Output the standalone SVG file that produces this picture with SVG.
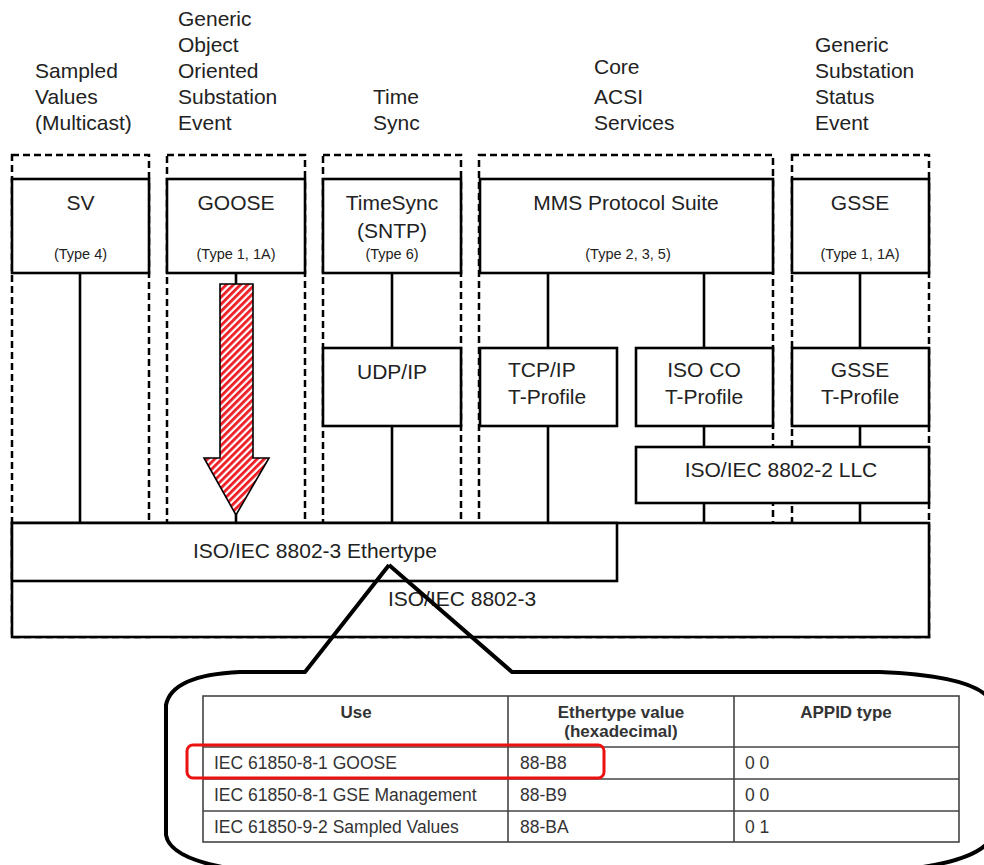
<svg xmlns="http://www.w3.org/2000/svg" width="984" height="865" viewBox="0 0 984 865">
<defs>
<pattern id="hatch" patternUnits="userSpaceOnUse" width="5" height="5" patternTransform="rotate(45)">
<rect x="0" y="0" width="5" height="5" fill="#fff"/>
<rect x="0" y="0" width="2.8" height="5" fill="#ee1c24"/>
</pattern>
</defs>
<style>
text{font-family:"Liberation Sans",Arial,sans-serif;fill:#222}
.hd{font-size:21px}
.bx{font-size:21px;text-anchor:middle}
.ty{font-size:14.5px;text-anchor:middle}
.frame{fill:none;stroke:#000;stroke-width:2.5;stroke-dasharray:7 4}
.box{fill:#fff;stroke:#000;stroke-width:2.6}
.ln{stroke:#000;stroke-width:2.6;fill:none}
.tb{fill:none;stroke:#444;stroke-width:1.6}
.tt{font-size:17.5px;fill:#333}
.th{font-size:17px;font-weight:bold;fill:#333;text-anchor:middle}
</style>

<g id="headers">
<text class="hd" x="35" y="78">Sampled</text>
<text class="hd" x="35" y="104">Values</text>
<text class="hd" x="35" y="130">(Multicast)</text>
<text class="hd" x="178" y="26">Generic</text>
<text class="hd" x="178" y="52">Object</text>
<text class="hd" x="178" y="78">Oriented</text>
<text class="hd" x="178" y="104">Substation</text>
<text class="hd" x="178" y="130">Event</text>
<text class="hd" x="373" y="104">Time</text>
<text class="hd" x="373" y="130">Sync</text>
<text class="hd" x="594" y="74">Core</text>
<text class="hd" x="594" y="104">ACSI</text>
<text class="hd" x="594" y="130">Services</text>
<text class="hd" x="815" y="52">Generic</text>
<text class="hd" x="815" y="78">Substation</text>
<text class="hd" x="815" y="104">Status</text>
<text class="hd" x="815" y="130">Event</text>
</g>

<g id="frames">
<rect class="frame" x="12" y="155" width="137" height="482"/>
<rect class="frame" x="167" y="155" width="138" height="482"/>
<rect class="frame" x="323" y="155" width="138" height="482"/>
<rect class="frame" x="479" y="155" width="294" height="482"/>
<rect class="frame" x="792" y="155" width="137" height="482"/>
</g>

<g id="connectors">
<line class="ln" x1="80" y1="273" x2="80" y2="523"/>
<line class="ln" x1="236" y1="273" x2="236" y2="285"/>
<line class="ln" x1="236" y1="513" x2="236" y2="523"/>
<line class="ln" x1="392" y1="273" x2="392" y2="348"/>
<line class="ln" x1="392" y1="426" x2="392" y2="523"/>
<line class="ln" x1="548" y1="273" x2="548" y2="348"/>
<line class="ln" x1="548" y1="426" x2="548" y2="523"/>
<line class="ln" x1="704" y1="273" x2="704" y2="348"/>
<line class="ln" x1="704" y1="426" x2="704" y2="447"/>
<line class="ln" x1="704" y1="503" x2="704" y2="523"/>
<line class="ln" x1="860" y1="273" x2="860" y2="348"/>
<line class="ln" x1="860" y1="426" x2="860" y2="447"/>
<line class="ln" x1="860" y1="503" x2="860" y2="523"/>
</g>

<g id="sv">
<rect class="box" x="12" y="179" width="137" height="94"/>
<text class="bx" x="80.5" y="210">SV</text>
<text class="ty" x="80.5" y="259">(Type 4)</text>
</g>
<g id="goose">
<rect class="box" x="167" y="179" width="138" height="94"/>
<text class="bx" x="236" y="210">GOOSE</text>
<text class="ty" x="236" y="259">(Type 1, 1A)</text>
</g>
<g id="timesync">
<rect class="box" x="323" y="179" width="138" height="94"/>
<text class="bx" x="392" y="210">TimeSync</text>
<text class="bx" x="392" y="238">(SNTP)</text>
<text class="ty" x="392" y="259">(Type 6)</text>
</g>
<g id="mms">
<rect class="box" x="480" y="179" width="293" height="94"/>
<text class="bx" x="626" y="210">MMS Protocol Suite</text>
<text class="ty" x="628" y="259">(Type 2, 3, 5)</text>
</g>
<g id="gsse">
<rect class="box" x="792" y="179" width="137" height="94"/>
<text class="bx" x="860" y="210">GSSE</text>
<text class="ty" x="860" y="259">(Type 1, 1A)</text>
</g>
<g id="udpip">
<rect class="box" x="323" y="348" width="138" height="78"/>
<text class="bx" x="392" y="379">UDP/IP</text>
</g>
<g id="tcpip">
<rect class="box" x="480" y="348" width="137" height="78"/>
<text class="hd" x="508" y="377">TCP/IP</text>
<text class="hd" x="508" y="404">T-Profile</text>
</g>
<g id="isoco">
<rect class="box" x="636" y="348" width="137" height="78"/>
<text class="bx" x="704" y="377">ISO CO</text>
<text class="bx" x="704" y="404">T-Profile</text>
</g>
<g id="gsseprofile">
<rect class="box" x="792" y="348" width="137" height="78"/>
<text class="bx" x="860" y="377">GSSE</text>
<text class="bx" x="860" y="404">T-Profile</text>
</g>
<g id="llc">
<rect class="box" x="636" y="447" width="293" height="56"/>
<text class="bx" x="781" y="477">ISO/IEC 8802-2 LLC</text>
</g>
<g id="iso8802-3">
<rect class="box" x="12" y="523" width="917" height="114"/>
<text class="bx" x="462" y="606">ISO/IEC 8802-3</text>
</g>
<g id="ethertype">
<rect class="box" x="12" y="523" width="605" height="58"/>
<text class="bx" x="315" y="558">ISO/IEC 8802-3 Ethertype</text>
</g>

<g id="goose-arrow">
<polygon points="220,284 253,284 253,458 269,458 236,515 204,458 220,458" fill="url(#hatch)" stroke="#000" stroke-width="1.6" stroke-linejoin="miter"/>
</g>

<g id="callout">
<path d="M 389 565 L 305 672 L 240 672 Q 172 675 166 705 L 166 835 Q 170 860 240 870" fill="none" stroke="#000" stroke-width="4"/>
<path d="M 389 565 L 512 672 L 880 672 Q 975 676 990 700 L 990 840 Q 975 862 900 870" fill="none" stroke="#000" stroke-width="4"/>
</g>

<g id="table">
<rect class="tb" x="203" y="696" width="756" height="146"/>
<line class="tb" x1="508" y1="696" x2="508" y2="842"/>
<line class="tb" x1="734" y1="696" x2="734" y2="842"/>
<line class="tb" x1="203" y1="747" x2="959" y2="747"/>
<line class="tb" x1="203" y1="779" x2="959" y2="779"/>
<line class="tb" x1="203" y1="811" x2="959" y2="811"/>
<text class="th" x="356" y="718">Use</text>
<text class="th" x="621" y="718">Ethertype value</text>
<text class="th" x="621" y="737">(hexadecimal)</text>
<text class="th" x="846" y="718">APPID type</text>
<text class="tt" x="214" y="769">IEC 61850-8-1 GOOSE</text>
<text class="tt" x="520" y="769">88-B8</text>
<text class="tt" x="745" y="769">0 0</text>
<text class="tt" x="214" y="801">IEC 61850-8-1 GSE Management</text>
<text class="tt" x="520" y="801">88-B9</text>
<text class="tt" x="745" y="801">0 0</text>
<text class="tt" x="214" y="833">IEC 61850-9-2 Sampled Values</text>
<text class="tt" x="520" y="833">88-BA</text>
<text class="tt" x="745" y="833">0 1</text>
<rect x="187" y="745" width="417" height="33" rx="6" fill="none" stroke="#ee1111" stroke-width="3"/>
</g>
</svg>
